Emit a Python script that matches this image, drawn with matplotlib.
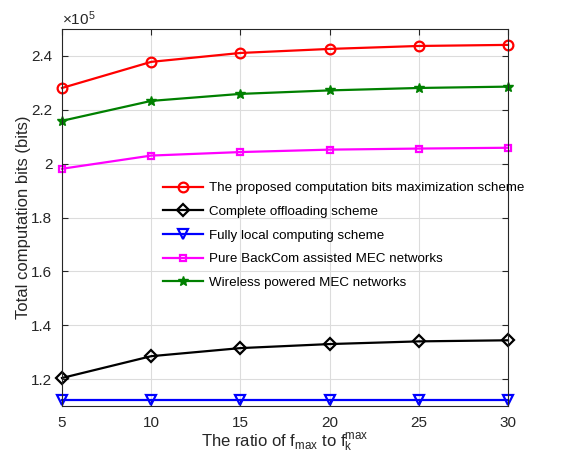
import numpy as np
import matplotlib
matplotlib.use("Agg")
import matplotlib.pyplot as plt

plt.rcParams["font.family"] = ["Liberation Sans", "DejaVu Sans"]
plt.rcParams["mathtext.fontset"] = "custom"
plt.rcParams["mathtext.rm"] = "Liberation Sans"
plt.rcParams["mathtext.it"] = "Liberation Sans"

# ratio of f_max to f_k^max
ratio = [5, 10, 15, 20, 25, 30]

# total computation bits, in units of 1e5
proposed = [2.281, 2.378, 2.411, 2.426, 2.437, 2.441]
full_offload = [1.204, 1.285, 1.315, 1.330, 1.340, 1.344]
local_only = [1.122, 1.122, 1.122, 1.122, 1.122, 1.122]
backcom = [1.981, 2.030, 2.043, 2.052, 2.056, 2.059]
wireless_mec = [2.159, 2.233, 2.259, 2.272, 2.281, 2.286]

labels = [
    "The proposed computation bits maximization scheme",
    "Complete offloading scheme",
    "Fully local computing scheme",
    "Pure BackCom assisted MEC networks",
    "Wireless powered MEC networks",
]

fig = plt.figure(figsize=(5.66, 4.62), dpi=100)
ax = fig.add_axes([62 / 566, 56 / 462, 446 / 566, 377 / 462])

lw = 1.6
kw = dict(lw=lw, mew=1.6, clip_on=False)
ax.plot(ratio, proposed, "-o", color="red", ms=7, mfc="none", label=labels[0], **kw)
ax.plot(ratio, full_offload, "-D", color="black", ms=6, mfc="none", label=labels[1], **kw)
ax.plot(ratio, local_only, "-v", color="blue", ms=7, mfc="none", label=labels[2], **kw)
ax.plot(ratio, backcom, "-s", color="magenta", ms=5, mfc="none", label=labels[3], **kw)
ax.plot(ratio, wireless_mec, "-*", color="green", ms=7, mfc="green", label=labels[4],
        lw=lw, mew=1.0, clip_on=False)

ax.set_xlim(5, 30)
ax.set_ylim(1.1, 2.5)
ax.set_xticks(ratio)
ax.set_yticks([1.2, 1.4, 1.6, 1.8, 2.0, 2.2, 2.4])
ax.set_yticklabels(["1.2", "1.4", "1.6", "1.8", "2", "2.2", "2.4"])

ax.grid(True, color="#dcdcdc", lw=0.8)
ax.set_axisbelow(True)
ax.tick_params(direction="in", top=True, right=True, labelsize=11, colors="#262626",
               length=4, pad=7)
for s in ax.spines.values():
    s.set_color("#262626")
    s.set_linewidth(0.8)

ax.set_xlabel(r"The ratio of f$_{\mathrm{max}}$ to f$_{\mathrm{k}}^{\mathrm{max}}$", fontsize=12,
              color="#262626", labelpad=1)
ax.set_ylabel("Total computation bits (bits)", fontsize=12, color="#262626", labelpad=0)
ax.text(0.0, 1.003, r"$\times$10$^5$", transform=ax.transAxes, fontsize=11,
        color="#262626", va="bottom", ha="left")

ax.legend(loc="upper left", bbox_to_anchor=(0.226, 0.594), frameon=False, fontsize=9.6,
          handlelength=3.0, handletextpad=0.5, labelspacing=0.85, borderaxespad=0,
          borderpad=0)

fig.savefig("out.png", dpi=100)
